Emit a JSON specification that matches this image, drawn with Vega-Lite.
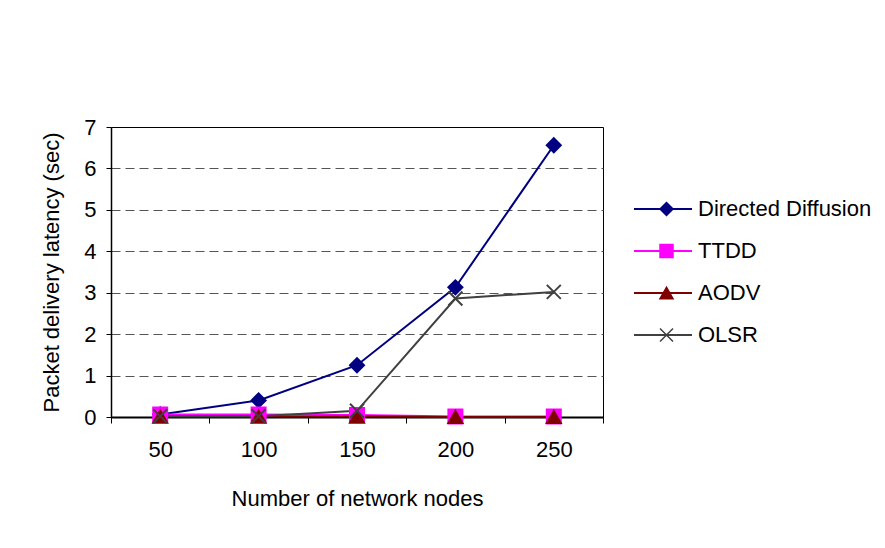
{
  "$schema": "https://vega.github.io/schema/vega-lite/v6.json",
  "width": 492,
  "height": 290,
  "autosize": "none",
  "padding": {"left": 111, "top": 127, "right": 282, "bottom": 131},
  "background": "white",
  "config": {
    "view": {"stroke": "black", "strokeWidth": 1},
    "font": "Liberation Sans",
    "axis": {"labelFont": "Liberation Sans", "titleFont": "Liberation Sans", "labelColor": "black", "titleColor": "black", "titleFontWeight": "normal", "labelFontSize": 22, "titleFontSize": 22, "domainColor": "black", "tickColor": "black"},
    "legend": {"labelFont": "Liberation Sans", "labelColor": "black", "labelFontSize": 22, "padding": 0, "labelLimit": 400}
  },
  "data": {
    "values": [
      {"nodes": "50", "protocol": "Directed Diffusion", "latency": 0.06},
      {"nodes": "100", "protocol": "Directed Diffusion", "latency": 0.40},
      {"nodes": "150", "protocol": "Directed Diffusion", "latency": 1.25},
      {"nodes": "200", "protocol": "Directed Diffusion", "latency": 3.13},
      {"nodes": "250", "protocol": "Directed Diffusion", "latency": 6.56},
      {"nodes": "50", "protocol": "TTDD", "latency": 0.06},
      {"nodes": "100", "protocol": "TTDD", "latency": 0.06},
      {"nodes": "150", "protocol": "TTDD", "latency": 0.05},
      {"nodes": "200", "protocol": "TTDD", "latency": 0.01},
      {"nodes": "250", "protocol": "TTDD", "latency": 0.01},
      {"nodes": "50", "protocol": "AODV", "latency": 0.01},
      {"nodes": "100", "protocol": "AODV", "latency": 0.01},
      {"nodes": "150", "protocol": "AODV", "latency": 0.01},
      {"nodes": "200", "protocol": "AODV", "latency": 0.0},
      {"nodes": "250", "protocol": "AODV", "latency": 0.0},
      {"nodes": "50", "protocol": "OLSR", "latency": 0.02},
      {"nodes": "100", "protocol": "OLSR", "latency": 0.02},
      {"nodes": "150", "protocol": "OLSR", "latency": 0.15},
      {"nodes": "200", "protocol": "OLSR", "latency": 2.86},
      {"nodes": "250", "protocol": "OLSR", "latency": 3.02}
    ]
  },
  "encoding": {
    "x": {
      "field": "nodes", "type": "ordinal", "sort": ["50", "100", "150", "200", "250"],
      "scale": {"paddingInner": 0, "paddingOuter": 0},
      "axis": {"title": "Number of network nodes", "labelAngle": 0, "tickBand": "extent", "domainWidth": 2, "tickSize": 6, "labelPadding": 16, "titlePadding": 28, "grid": false}
    },
    "y": {
      "field": "latency", "type": "quantitative",
      "scale": {"domain": [0, 7], "nice": false},
      "axis": {"title": "Packet delivery latency (sec)", "values": [0, 1, 2, 3, 4, 5, 6, 7], "grid": true, "gridDash": [9, 5], "gridColor": "#555555", "gridOpacity": {"condition": {"test": "datum.value == 0 || datum.value == 7", "value": 0}, "value": 1}, "tickSize": 5, "labelPadding": 10, "titlePadding": 20, "domainWidth": 1.5}
    }
  },
  "layer": [
    {
      "mark": {"type": "line", "strokeWidth": 2},
      "encoding": {
        "color": {
          "field": "protocol", "type": "nominal",
          "sort": ["Directed Diffusion", "TTDD", "AODV", "OLSR"],
          "scale": {"range": ["#000080", "#ff00ff", "#800000", "#404040"]},
          "legend": {"title": null, "orient": "none", "legendX": 522, "legendY": 61, "symbolType": "stroke", "symbolSize": 3364, "symbolStrokeWidth": 2, "clipHeight": 42, "rowPadding": 0, "labelOffset": 5}
        },
        "detail": {"field": "protocol"}
      }
    },
    {
      "mark": {"type": "point", "filled": true, "size": 196, "strokeWidth": 2, "opacity": 1},
      "encoding": {
        "fill": {
          "field": "protocol", "type": "nominal",
          "scale": {"domain": ["Directed Diffusion", "TTDD", "AODV", "OLSR"], "range": ["#000080", "#ff00ff", "#800000", "#404040"]},
          "legend": {"title": null, "orient": "none", "legendX": 544.5, "legendY": 61, "clipHeight": 42, "rowPadding": 0, "symbolSize": 169, "labelExpr": "''"}
        },
        "stroke": {
          "field": "protocol", "type": "nominal",
          "scale": {"domain": ["Directed Diffusion", "TTDD", "AODV", "OLSR"], "range": ["#000080", "#ff00ff", "#800000", "#404040"]},
          "legend": {"title": null, "orient": "none", "legendX": 544.5, "legendY": 61, "clipHeight": 42, "rowPadding": 0, "symbolSize": 169, "labelExpr": "''"}
        },
        "shape": {
          "field": "protocol", "type": "nominal",
          "scale": {"domain": ["Directed Diffusion", "TTDD", "AODV", "OLSR"], "range": ["diamond", "square", "triangle-up", "M-1,-1L1,1M-1,1L1,-1"]},
          "legend": {"title": null, "orient": "none", "legendX": 544.5, "legendY": 61, "clipHeight": 42, "rowPadding": 0, "symbolSize": 169, "labelExpr": "''"}
        }
      }
    }
  ]
}
